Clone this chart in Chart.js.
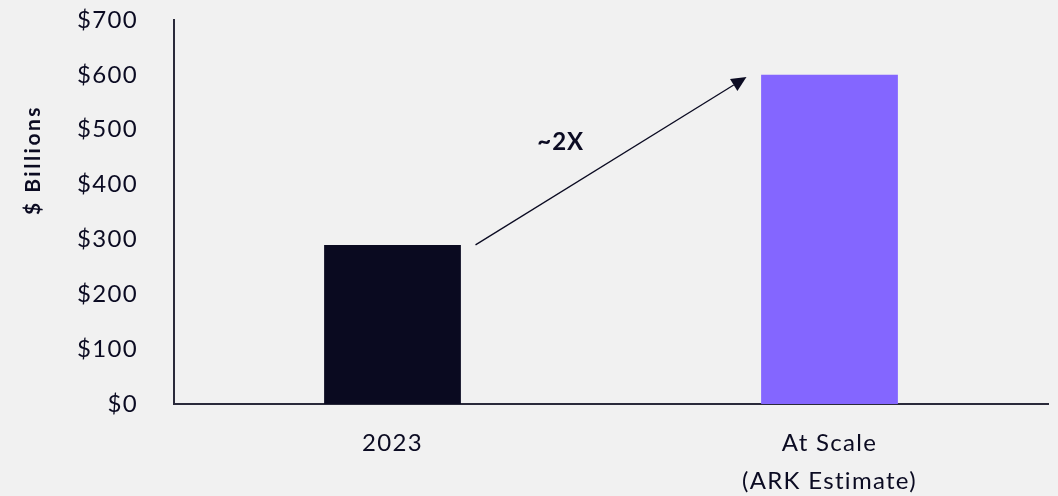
<!DOCTYPE html>
<html>
<head>
<meta charset="utf-8">
<script src="https://cdn.jsdelivr.net/npm/chart.js@4"></script>
<style>
  html, body { margin: 0; padding: 0; background: #f1f1f1; }
  #wrap { width: 1058px; height: 496px; position: relative; }
</style>
</head>
<body>
<div id="wrap"><canvas id="c"></canvas></div>
<script>
const categories = [["2023"], ["At Scale", "(ARK Estimate)"]];
const values = [290, 600];
const barColors = ["#0a0a20", "#8466ff"];
const yTicks = [0, 100, 200, 300, 400, 500, 600, 700];
// arrow from / to, in category index and $ billions
const arrowFrom = [0.19, 290];
const arrowTo = [0.81, 596];
const arrowLabel = { text: "~2X", at: [0.385, 478] };
const yTitle = "$ Billions";

const ink = "#0b0b22";

const arrowPlugin = {
  id: "arrow",
  beforeDraw(chart) {
    chart.ctx.letterSpacing = "1.3px";
  },
  afterDatasetsDraw(chart) {
    const { ctx, scales: { x, y } } = chart;
    const x1 = x.getPixelForValue(arrowFrom[0]), y1 = y.getPixelForValue(arrowFrom[1]);
    const x2 = x.getPixelForValue(arrowTo[0]), y2 = y.getPixelForValue(arrowTo[1]);
    const ang = Math.atan2(y2 - y1, x2 - x1);
    const head = 15, half = 7;
    ctx.save();
    ctx.strokeStyle = ink;
    ctx.fillStyle = ink;
    ctx.lineWidth = 1.3;
    ctx.beginPath();
    ctx.moveTo(x1, y1);
    ctx.lineTo(x2 - Math.cos(ang) * head, y2 - Math.sin(ang) * head);
    ctx.stroke();
    ctx.beginPath();
    ctx.moveTo(x2, y2);
    ctx.lineTo(x2 - Math.cos(ang) * head + Math.sin(ang) * half, y2 - Math.sin(ang) * head - Math.cos(ang) * half);
    ctx.lineTo(x2 - Math.cos(ang) * head - Math.sin(ang) * half, y2 - Math.sin(ang) * head + Math.cos(ang) * half);
    ctx.closePath();
    ctx.fill();
    ctx.letterSpacing = "1px";
    ctx.font = "bold 24px Lato";
    ctx.textAlign = "center";
    ctx.textBaseline = "middle";
    ctx.fillText(arrowLabel.text, x.getPixelForValue(arrowLabel.at[0]), y.getPixelForValue(arrowLabel.at[1]));
    // y title, sits above the middle of the axis
    ctx.translate(33, 160);
    ctx.rotate(-Math.PI / 2);
    ctx.letterSpacing = "2.5px";
    ctx.font = "bold 21px Lato";
    ctx.fillText(yTitle, 0, 0);
    ctx.restore();
  }
};

new Chart(document.getElementById("c"), {
  type: "bar",
  data: {
    labels: categories,
    datasets: [{ data: values, backgroundColor: barColors, categoryPercentage: 1, barPercentage: 0.313 }]
  },
  options: {
    responsive: true,
    maintainAspectRatio: false,
    animation: false,
    layout: { padding: { top: 20, right: 10, left: 0, bottom: 0 } },
    plugins: { legend: { display: false }, tooltip: { enabled: false } },
    scales: {
      x: {
        grid: { display: false, drawTicks: false },
        border: { color: "#2a2a3a", width: 2 },
        ticks: { color: ink, font: { family: "Lato", size: 24, lineHeight: 1.6 }, padding: 20, maxRotation: 0 },
        afterFit(s) { s.height = 92; s.paddingLeft = 0; s.paddingRight = 0; }
      },
      y: {
        min: 0, max: 700,
        afterBuildTicks(s) { s.ticks = yTicks.map(v => ({ value: v })); },
        grid: { display: false, drawTicks: false },
        border: { color: "#2a2a3a", width: 2 },
        ticks: { color: ink, font: { family: "Lato", size: 24 }, padding: 36, callback: v => "$" + v },
        afterFit(s) { s.width = 174; s.paddingTop = 0; s.paddingBottom = 0; }
      }
    }
  },
  plugins: [arrowPlugin]
});
</script>
</body>
</html>
